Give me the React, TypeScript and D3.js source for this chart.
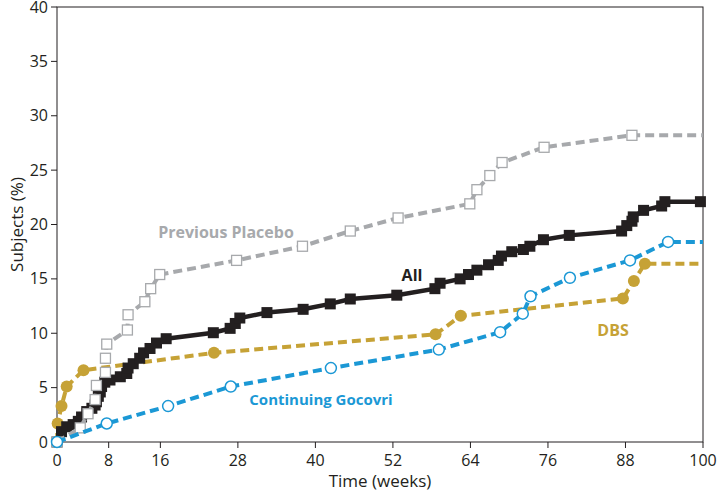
import * as d3 from "d3";

// x ticks (weeks) and y ticks (%)
const weekTicks = [0, 8, 16, 28, 40, 52, 64, 76, 88, 100];
const pctTicks = [0, 5, 10, 15, 20, 25, 30, 35, 40];

// Previous Placebo
const placeboWeeks = [0, 3.6, 4.8, 5.9, 6.1, 7.5, 7.5, 7.7, 10.9, 11.0, 13.6, 14.5, 15.9, 27.8, 38.0, 45.4, 52.8, 63.9, 65.0, 67.0, 68.9, 75.4, 89.0];
const placeboPct = [0, 1.3, 2.6, 3.9, 5.2, 6.4, 7.7, 9.0, 10.3, 11.7, 12.9, 14.1, 15.4, 16.7, 18.0, 19.4, 20.6, 21.9, 23.2, 24.5, 25.7, 27.1, 28.2];

// All
const allWeeks = [0, 0.7, 1.5, 2.5, 3.3, 3.8, 4.6, 5.4, 5.9, 6.1, 6.4, 6.7, 6.9, 7.4, 8.2, 9.8, 10.8, 11.0, 11.8, 12.8, 13.4, 14.4, 15.4, 16.9, 24.2, 26.8, 27.6, 28.3, 32.5, 38.1, 42.3, 45.4, 52.6, 58.5, 59.3, 62.4, 63.7, 65.0, 66.8, 68.3, 68.8, 70.4, 72.2, 73.2, 75.3, 79.3, 87.4, 88.2, 89.0, 89.2, 90.8, 93.6, 94.1, 99.6];
const allPct = [0, 0.95, 1.4, 1.6, 1.9, 2.3, 2.8, 3.1, 3.4, 3.7, 4.2, 4.6, 5.1, 5.5, 5.7, 6.0, 6.3, 6.8, 7.2, 7.7, 8.2, 8.6, 9.1, 9.5, 10.05, 10.45, 10.9, 11.4, 11.9, 12.2, 12.7, 13.15, 13.5, 14.1, 14.6, 15.0, 15.4, 15.8, 16.3, 16.7, 17.1, 17.5, 17.7, 18.0, 18.6, 19.0, 19.4, 19.9, 20.3, 20.7, 21.3, 21.7, 22.1, 22.1];

// DBS
const dbsWeeks = [0, 0.1, 0.7, 1.5, 4.1, 24.3, 58.6, 62.5, 87.6, 89.3, 91.0];
const dbsPct = [0, 1.7, 3.3, 5.1, 6.6, 8.2, 9.9, 11.6, 13.2, 14.8, 16.4];

// Continuing Gocovri
const gocWeeks = [0, 7.7, 17.2, 26.9, 42.4, 59.1, 68.6, 72.1, 73.3, 79.4, 88.7, 94.6];
const gocPct = [0, 1.7, 3.3, 5.1, 6.8, 8.5, 10.1, 11.8, 13.4, 15.1, 16.7, 18.4];

const W = 717;
const H = 493;
const margin = { left: 57, right: 14, top: 7, bottom: 51 };
const font = "'Open Sans', 'Noto Sans', sans-serif";

const x = d3.scaleLinear().domain([0, 100]).range([margin.left, W - margin.right]);
const y = d3.scaleLinear().domain([0, 40]).range([H - margin.bottom, margin.top]);

type Pt = [number, number];
const zip = (a: number[], b: number[]): Pt[] => a.map((v, i) => [v, b[i]]);
// flat tail carried on to week 100
const withTail = (pts: Pt[]): Pt[] => [...pts, [100, pts[pts.length - 1][1]]];

const line = d3
  .line<Pt>()
  .x((d) => x(d[0]))
  .y((d) => y(d[1]));

const placebo = zip(placeboWeeks, placeboPct);
const all = zip(allWeeks, allPct);
const dbs = zip(dbsWeeks, dbsPct);
const goc = zip(gocWeeks, gocPct);

const GRAY = "#a7a9ac";
const BLACK = "#231f20";
const GOLD = "#c6a236";
const BLUE = "#1b98d5";

export default function App() {
  const x0 = margin.left;
  const x1 = W - margin.right;
  const y0 = H - margin.bottom;
  const y1 = margin.top;
  return (
    <svg width={W} height={H} style={{ position: "absolute", left: 0, top: 0 }} fontFamily={font}>
      {/* frame */}
      <rect x={x0} y={y1} width={x1 - x0} height={y0 - y1} fill="none" stroke={BLACK} strokeWidth={1} />
      {weekTicks.map((t) => (
        <g key={"x" + t}>
          <line x1={x(t)} x2={x(t)} y1={y0} y2={y0 + 6} stroke={BLACK} strokeWidth={1} />
          <text x={x(t)} y={y0 + 24} textAnchor="middle" fontSize={16} fill={BLACK}>
            {t}
          </text>
        </g>
      ))}
      {pctTicks.map((t) => (
        <g key={"y" + t}>
          <line x1={x0 - 6} x2={x0} y1={y(t)} y2={y(t)} stroke={BLACK} strokeWidth={1} />
          <text x={x0 - 9} y={y(t) + 5.5} textAnchor="end" fontSize={16} fill={BLACK}>
            {t}
          </text>
        </g>
      ))}
      <text x={(x0 + x1) / 2} y={y0 + 45} textAnchor="middle" fontSize={17} fill={BLACK}>
        Time (weeks)
      </text>
      <text
        transform={`translate(23,${(y0 + y1) / 2}) rotate(-90)`}
        textAnchor="middle"
        fontSize={17}
        fill={BLACK}
      >
        Subjects (%)
      </text>

      {/* DBS */}
      <path d={line(withTail(dbs)) ?? ""} fill="none" stroke={GOLD} strokeWidth={4} strokeDasharray="9,5" />
      {dbs.map((d, i) => (
        <circle key={"d" + i} cx={x(d[0])} cy={y(d[1])} r={6} fill={GOLD} />
      ))}

      {/* All */}
      <path d={line(withTail(all)) ?? ""} fill="none" stroke={BLACK} strokeWidth={4.5} />
      {all.map((d, i) => (
        <rect key={"a" + i} x={x(d[0]) - 5.5} y={y(d[1]) - 5.5} width={11} height={11} fill={BLACK} />
      ))}

      {/* Previous Placebo */}
      <path d={line(withTail(placebo)) ?? ""} fill="none" stroke={GRAY} strokeWidth={4} strokeDasharray="9,5" />
      {placebo.map((d, i) => (
        <rect key={"p" + i} x={x(d[0]) - 5} y={y(d[1]) - 5} width={10} height={10} fill="#fff" stroke={GRAY} strokeWidth={1.3} />
      ))}

      {/* Continuing Gocovri */}
      <path d={line(withTail(goc)) ?? ""} fill="none" stroke={BLUE} strokeWidth={4} strokeDasharray="9,5" />
      {goc.map((d, i) => (
        <circle key={"g" + i} cx={x(d[0])} cy={y(d[1])} r={5.5} fill="#fff" stroke={BLUE} strokeWidth={1.5} />
      ))}

      {/* series labels */}
      <text x={226} y={238} textAnchor="middle" fontSize={16} fontWeight="bold" fill={GRAY}>
        Previous Placebo
      </text>
      <text x={412} y={281} textAnchor="middle" fontSize={16} fontWeight="bold" fill={BLACK}>
        All
      </text>
      <text x={613} y={336} textAnchor="middle" fontSize={16} fontWeight="bold" fill={GOLD}>
        DBS
      </text>
      <text x={321} y={405} textAnchor="middle" fontSize={15} fontWeight="bold" fill={BLUE}>
        Continuing Gocovri
      </text>
    </svg>
  );
}
